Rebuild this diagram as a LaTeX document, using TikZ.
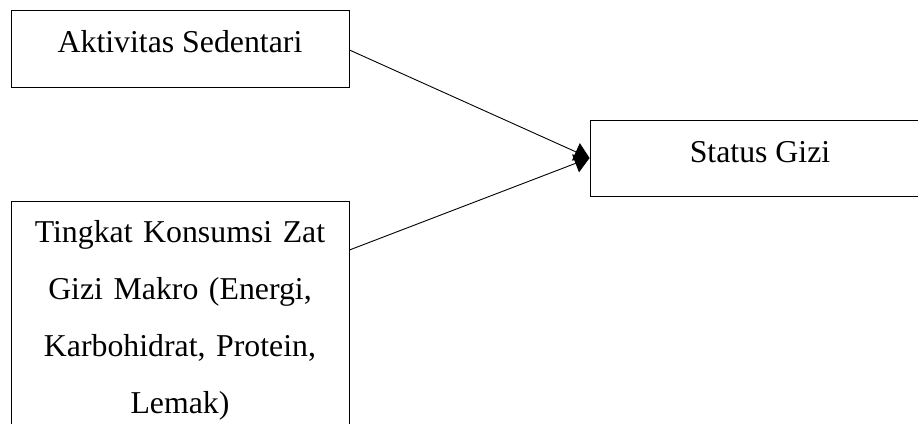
\documentclass[tikz,border=0pt]{standalone}
\usepackage{fontspec}
\setmainfont{Liberation Serif}
\usetikzlibrary{arrows.meta,calc}
\tikzset{
  box/.style={draw=black, line width=0.9pt, inner sep=0pt, align=center,
    font=\fontsize{31.8}{57}\selectfont},
  conn/.style={draw=black, line width=0.9pt, -{Triangle[length=15pt,width=19pt]}}
}
\begin{document}
\begin{tikzpicture}[x=1pt,y=-1pt]
\useasboundingbox (0,0) rectangle (918,423);
\clip (0,0) rectangle (918,423);
\fill[white] (0,0) rectangle (918,423);
\node[box, minimum width=338, minimum height=77, text height=22, text depth=15] (a) at (180,48.5) {Aktivitas Sedentari};
\node[box, anchor=north, text width=338, inner ysep=19pt] (b) at (180,201) {Tingkat Konsumsi Zat\\Gizi Makro (Energi,\\Karbohidrat, Protein,\\Lemak)};
\node[box, minimum width=340, minimum height=76, text height=22, text depth=14] (c) at (760,158) {Status Gizi};
\draw[conn] ($(a.east)+(0,1.5)$) -- (c.west);
\draw[conn] ($(b.north east)+(0,49)$) -- (c.west);
\end{tikzpicture}
\end{document}
